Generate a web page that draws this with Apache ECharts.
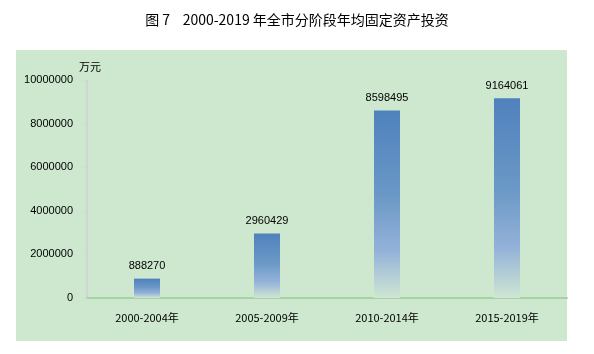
<!DOCTYPE html>
<html>
<head>
<meta charset="utf-8">
<script src="https://cdn.jsdelivr.net/npm/echarts@6/dist/echarts.min.js"></script>
<style>
  html, body { margin: 0; padding: 0; background: #fff; }
  #chart { width: 594px; height: 354px; }
</style>
</head>
<body>
<div id="chart"></div>
<script>
// 分阶段年均固定资产投资（万元）
const categories = ["2000-2004年", "2005-2009年", "2010-2014年", "2015-2019年"];
const values = [888270, 2960429, 8598495, 9164061];
const yMax = 10000000;
const yStep = 2000000;

const chart = echarts.init(document.getElementById("chart"));

const barColor = new echarts.graphic.LinearGradient(0, 0, 0, 1, [
  { offset: 0, color: "#4f81bd" },
  { offset: 0.45, color: "#6a98c6" },
  { offset: 0.75, color: "#94b2d9" },
  { offset: 1, color: "#cfe6d2" },
]);

const option = {
  animation: false,
  backgroundColor: "#fff",
  title: {
    text: "图 7    2000-2019 年全市分阶段年均固定资产投资",
    left: "center",
    top: 8,
    textStyle: {
      fontFamily: "Noto Sans CJK SC",
      fontSize: 14,
      fontWeight: "normal",
      color: "#000",
    },
  },
  graphic: [
    {
      type: "rect",
      z: -10,
      shape: { x: 16, y: 50, width: 551, height: 291 },
      style: { fill: "#cde8cf" },
    },
  ],
  grid: {
    left: 87,
    right: 27,
    top: 80,
    bottom: 56,
  },
  xAxis: {
    type: "category",
    data: categories,
    axisLine: { lineStyle: { color: "#a6d3a2", width: 2 } },
    axisTick: { inside: true, length: 4, lineStyle: { color: "#9ccb98", width: 2 } },
    axisLabel: {
      color: "#000",
      fontFamily: "Noto Sans CJK SC",
      fontSize: 11,
      margin: 14,
    },
  },
  yAxis: {
    type: "value",
    min: 0,
    max: yMax,
    interval: yStep,
    name: "万元",
    nameLocation: "end",
    nameGap: 8,
    nameTextStyle: {
      color: "#000",
      fontFamily: "Noto Sans CJK SC",
      fontSize: 11,
      align: "left",
      padding: [0, 0, 0, -8],
    },
    axisLine: { show: true, lineStyle: { color: "#d4d4d4", width: 2 } },
    axisTick: { show: true, length: 3, lineStyle: { color: "#d4d4d4" } },
    splitLine: { show: false },
    axisLabel: {
      color: "#000",
      fontFamily: "Liberation Sans",
      fontSize: 11,
      margin: 14,
      formatter: (v) => String(v),
    },
  },
  series: [
    {
      type: "bar",
      data: values,
      barWidth: 26,
      itemStyle: { color: barColor },
      label: {
        show: true,
        position: "top",
        distance: 7,
        color: "#000",
        fontFamily: "Liberation Sans",
        fontSize: 11,
      },
    },
  ],
};

chart.setOption(option);
</script>
</body>
</html>
